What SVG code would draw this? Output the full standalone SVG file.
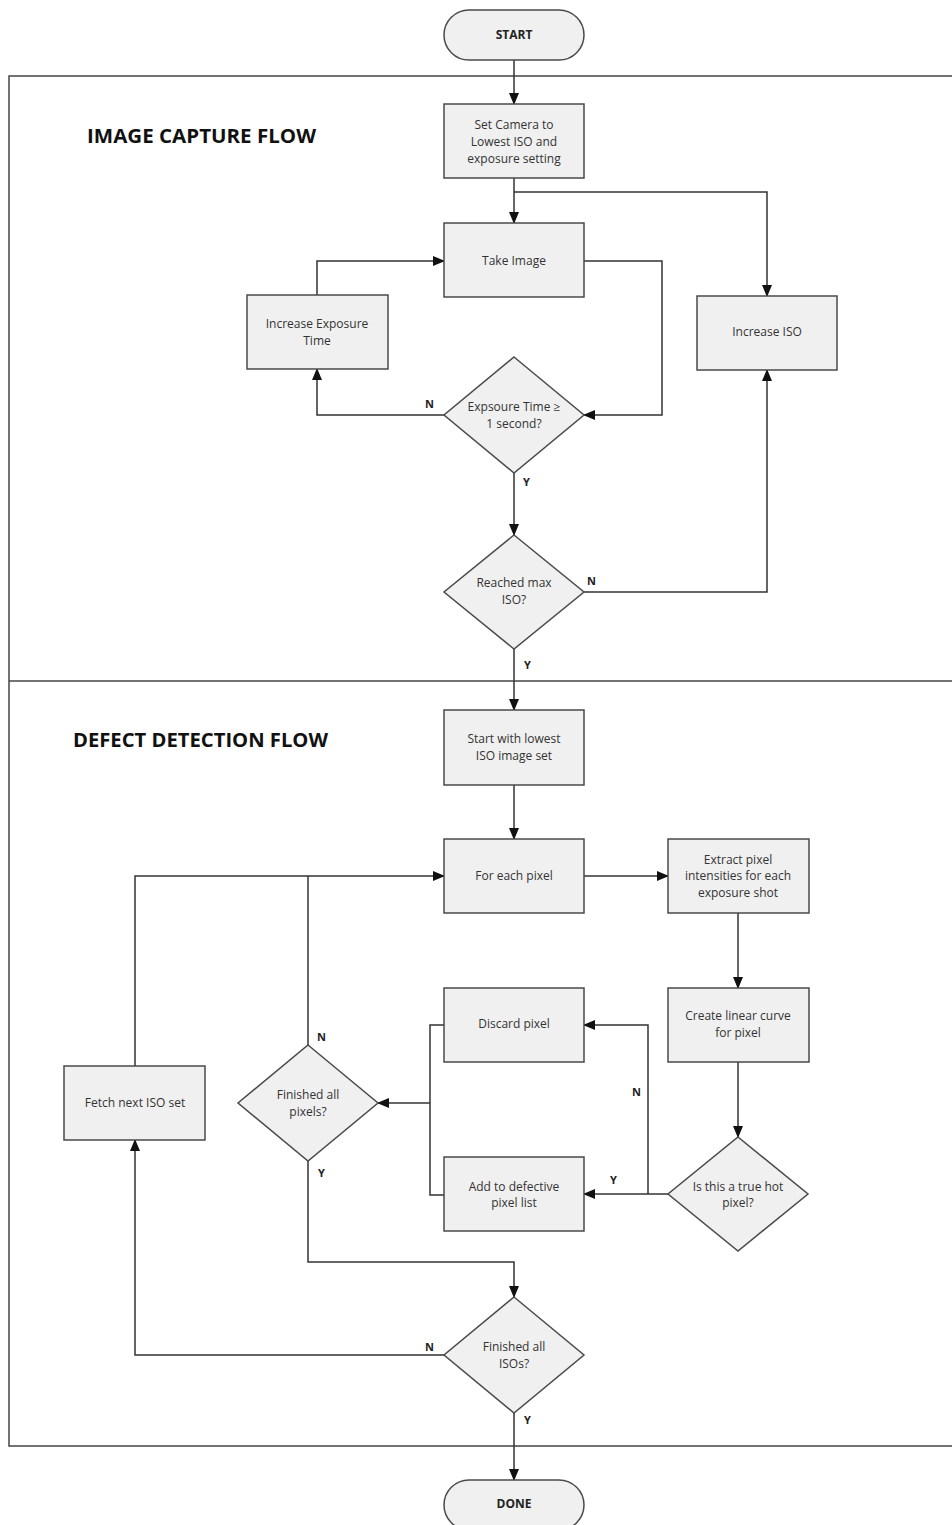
<svg xmlns="http://www.w3.org/2000/svg" width="952" height="1525" viewBox="0 0 952 1525">
<style>
.node{fill:#f0f0f0;stroke:#4a4a4a;stroke-width:1.5}
.t{font-family:"Open Sans","Liberation Sans",sans-serif;font-size:12px;fill:#333;text-anchor:middle}
.tb{font-family:"Open Sans","Liberation Sans",sans-serif;font-size:12px;font-weight:bold;fill:#222;text-anchor:middle}
.lbl{font-family:"Open Sans","Liberation Sans",sans-serif;font-size:11px;font-weight:bold;fill:#222}
.title{font-family:"Open Sans","Liberation Sans",sans-serif;font-size:19px;font-weight:bold;fill:#111}
.c{fill:none;stroke:#333;stroke-width:1.5}
.frame{fill:none;stroke:#444;stroke-width:1.5}
</style>
<defs>
<marker id="ah" markerUnits="userSpaceOnUse" markerWidth="12" markerHeight="10" refX="11" refY="5" orient="auto">
<path d="M0,0 L12,5 L0,10 z" fill="#111"/>
</marker>
</defs>
<rect width="952" height="1525" fill="#fff"/>
<g id="frame">
<rect class="frame" x="9" y="76" width="960" height="1370"/>
<line class="frame" x1="9" y1="681" x2="952" y2="681"/>
<text class="title" x="87" y="143" textLength="229" lengthAdjust="spacingAndGlyphs">IMAGE CAPTURE FLOW</text>
<text class="title" x="73" y="747" textLength="255" lengthAdjust="spacingAndGlyphs">DEFECT DETECTION FLOW</text>
</g>
<g id="connectors">
<path class="c" d="M514,60 V104" marker-end="url(#ah)"/>
<path class="c" d="M514,178 V223" marker-end="url(#ah)"/>
<path class="c" d="M514,192 H767 V296" marker-end="url(#ah)"/>
<path class="c" d="M584,261 H662 V415 H584" marker-end="url(#ah)"/>
<path class="c" d="M444,415 H317 V369" marker-end="url(#ah)"/>
<path class="c" d="M317,295 V261 H444" marker-end="url(#ah)"/>
<path class="c" d="M514,473 V535" marker-end="url(#ah)"/>
<path class="c" d="M584,592 H767 V370" marker-end="url(#ah)"/>
<path class="c" d="M514,649 V710" marker-end="url(#ah)"/>
<path class="c" d="M514,785 V839" marker-end="url(#ah)"/>
<path class="c" d="M584,876 H668" marker-end="url(#ah)"/>
<path class="c" d="M738,913 V988" marker-end="url(#ah)"/>
<path class="c" d="M738,1062 V1137" marker-end="url(#ah)"/>
<path class="c" d="M668,1194 H584" marker-end="url(#ah)"/>
<path class="c" d="M648,1194 V1025 H584" marker-end="url(#ah)"/>
<path class="c" d="M444,1025 H430 V1195 H444"/>
<path class="c" d="M430,1103 H378" marker-end="url(#ah)"/>
<path class="c" d="M135,1066 V876 H444" marker-end="url(#ah)"/>
<path class="c" d="M308,1045 V876"/>
<path class="c" d="M308,1161 V1262 H514 V1297" marker-end="url(#ah)"/>
<path class="c" d="M444,1355 H135 V1140" marker-end="url(#ah)"/>
<path class="c" d="M514,1413 V1480" marker-end="url(#ah)"/>
<text class="lbl" x="425" y="408">N</text>
<text class="lbl" x="523" y="486">Y</text>
<text class="lbl" x="587" y="585">N</text>
<text class="lbl" x="524" y="669">Y</text>
<text class="lbl" x="632" y="1096">N</text>
<text class="lbl" x="610" y="1184">Y</text>
<text class="lbl" x="317" y="1041">N</text>
<text class="lbl" x="318" y="1177">Y</text>
<text class="lbl" x="425" y="1351">N</text>
<text class="lbl" x="524" y="1424">Y</text>
</g>
<g id="start">
<rect class="node" x="444" y="10" width="140" height="50" rx="25"/>
<text class="tb" x="514" y="39">START</text>
</g>
<g id="set-camera">
<rect class="node" x="444" y="104" width="140" height="74"/>
<text class="t" x="514" y="129">Set Camera to</text>
<text class="t" x="514" y="146">Lowest ISO and</text>
<text class="t" x="514" y="163">exposure setting</text>
</g>
<g id="take-image">
<rect class="node" x="444" y="223" width="140" height="74"/>
<text class="t" x="514" y="265">Take Image</text>
</g>
<g id="increase-iso">
<rect class="node" x="697" y="296" width="140" height="74"/>
<text class="t" x="767" y="336">Increase ISO</text>
</g>
<g id="increase-exposure">
<rect class="node" x="247" y="295" width="141" height="74"/>
<text class="t" x="317" y="328">Increase Exposure</text>
<text class="t" x="317" y="345">Time</text>
</g>
<g id="exposure-check">
<polygon class="node" points="514,357 584,415 514,473 444,415"/>
<text class="t" x="514" y="411">Expsoure Time ≥</text>
<text class="t" x="514" y="428">1 second?</text>
</g>
<g id="max-iso">
<polygon class="node" points="514,535 584,592 514,649 444,592"/>
<text class="t" x="514" y="587">Reached max</text>
<text class="t" x="514" y="604">ISO?</text>
</g>
<g id="start-lowest">
<rect class="node" x="444" y="710" width="140" height="75"/>
<text class="t" x="514" y="743">Start with lowest</text>
<text class="t" x="514" y="760">ISO image set</text>
</g>
<g id="for-each-pixel">
<rect class="node" x="444" y="839" width="140" height="74"/>
<text class="t" x="514" y="880">For each pixel</text>
</g>
<g id="extract">
<rect class="node" x="668" y="839" width="141" height="74"/>
<text class="t" x="738" y="864">Extract pixel</text>
<text class="t" x="738" y="880">intensities for each</text>
<text class="t" x="738" y="897">exposure shot</text>
</g>
<g id="create-curve">
<rect class="node" x="668" y="988" width="141" height="74"/>
<text class="t" x="738" y="1020">Create linear  curve</text>
<text class="t" x="738" y="1037">for pixel</text>
</g>
<g id="hot-pixel">
<polygon class="node" points="738,1137 808,1194 738,1251 668,1194"/>
<text class="t" x="738" y="1191">Is this a true hot</text>
<text class="t" x="738" y="1207">pixel?</text>
</g>
<g id="discard">
<rect class="node" x="444" y="988" width="140" height="74"/>
<text class="t" x="514" y="1028">Discard pixel</text>
</g>
<g id="add-defective">
<rect class="node" x="444" y="1157" width="140" height="74"/>
<text class="t" x="514" y="1191">Add to defective</text>
<text class="t" x="514" y="1207">pixel list</text>
</g>
<g id="finished-pixels">
<polygon class="node" points="308,1045 378,1103 308,1161 238,1103"/>
<text class="t" x="308" y="1099">Finished all</text>
<text class="t" x="308" y="1116">pixels?</text>
</g>
<g id="fetch-next">
<rect class="node" x="64" y="1066" width="141" height="74"/>
<text class="t" x="135" y="1107">Fetch next ISO set</text>
</g>
<g id="finished-isos">
<polygon class="node" points="514,1297 584,1355 514,1413 444,1355"/>
<text class="t" x="514" y="1351">Finished all</text>
<text class="t" x="514" y="1368">ISOs?</text>
</g>
<g id="done">
<rect class="node" x="444" y="1480" width="140" height="50" rx="25"/>
<text class="tb" x="514" y="1508">DONE</text>
</g>
</svg>
